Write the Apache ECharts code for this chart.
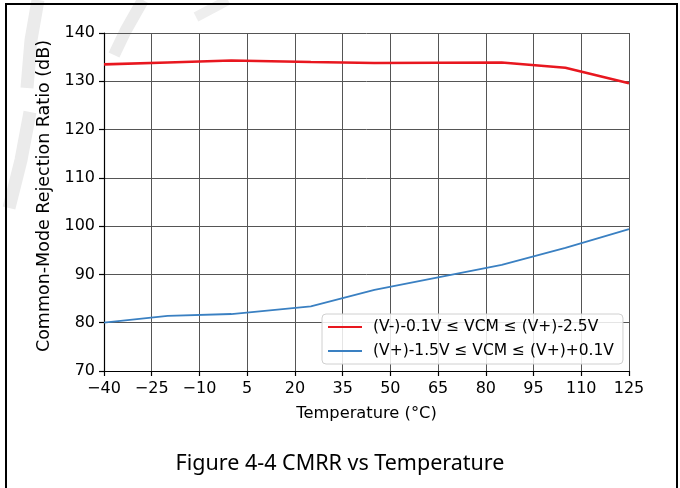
<!DOCTYPE html>
<html>
<head>
<meta charset="utf-8">
<script src="https://cdn.jsdelivr.net/npm/echarts@6/dist/echarts.min.js"></script>
<style>
html,body{margin:0;padding:0;background:#fff;}
#chart{width:680px;height:488px;}
</style>
</head>
<body>
<div id="chart"></div>
<script>
// ---- data ----
const temperatures = [-40, -20, 0, 25, 45, 85, 105, 125];
const cmrrLowVcm = [133.5, 133.9, 134.3, 134.0, 133.8, 133.9, 132.8, 129.6];
const cmrrHighVcm = [80.0, 81.4, 81.8, 83.4, 86.8, 92.0, 95.5, 99.4];
const seriesNames = ['(V-)-0.1V \u2264 VCM \u2264 (V+)-2.5V', '(V+)-1.5V \u2264 VCM \u2264 (V+)+0.1V'];
const xTickStart = -40;     // first x tick label
const xTickStep = 15;
const xTickEnd = 125;
const yMin = 70, yMax = 140, yStep = 10;
const xTitle = 'Temperature (\u00B0C)';
const yTitle = 'Common-Mode Rejection Ratio (dB)';
const caption = 'Figure 4-4 CMRR vs Temperature';

// x axis is offset so that its min is 0 (a multiple of the interval)
const off = -xTickStart;
const toPairs = (ys) => temperatures.map((t, i) => [t + off, ys[i]]);
const fmtX = (v) => { const t = Math.round(v - off); return t < 0 ? '\u2212' + Math.abs(t) : String(t); };

const chart = echarts.init(document.getElementById('chart'), null, {renderer: 'canvas'});
const axisFont = {fontFamily: 'DejaVu Sans', fontSize: 16, color: '#000'};

chart.setOption({
  animation: false,
  backgroundColor: '#fff',
  grid: {left: 104, right: 51, top: 33, bottom: 117, containLabel: false},
  xAxis: {
    type: 'value', min: 0, max: xTickEnd + off, interval: xTickStep,
    name: xTitle, nameLocation: 'middle', nameGap: 35,
    nameTextStyle: {fontFamily: 'DejaVu Sans', fontSize: 16.3, color: '#000'},
    axisLine: {show: true, onZero: false, lineStyle: {color: '#000', width: 1.2}},
    axisTick: {show: true, length: 5, lineStyle: {color: '#000', width: 1.2}},
    axisLabel: Object.assign({formatter: fmtX, margin: 10}, axisFont),
    splitLine: {show: true, lineStyle: {color: '#555', width: 1}}
  },
  yAxis: {
    type: 'value', min: yMin, max: yMax, interval: yStep,
    name: yTitle, nameLocation: 'middle', nameGap: 48, nameRotate: 90,
    nameTextStyle: {fontFamily: 'DejaVu Sans', fontSize: 17.5, color: '#000', padding: [0, 0, 0, 12]},
    axisLine: {show: true, lineStyle: {color: '#000', width: 1.2}},
    axisTick: {show: true, length: 5, lineStyle: {color: '#000', width: 1.2}},
    axisLabel: Object.assign({margin: 9}, axisFont),
    splitLine: {show: true, lineStyle: {color: '#555', width: 1}}
  },
  legend: {
    orient: 'vertical', left: 322, top: 314,
    backgroundColor: 'rgba(255,255,255,0.85)', borderColor: '#d0d0d0', borderWidth: 1, borderRadius: 4,
    padding: [5, 9, 5, 5], itemWidth: 34, itemHeight: 14, itemGap: 8,
    itemStyle: {opacity: 0},
    textStyle: {fontFamily: 'DejaVu Sans', fontSize: 15.5, color: '#000', padding: [0, 0, 0, 6]},
    data: [{name: seriesNames[0]}, {name: seriesNames[1]}]
  },
  graphic: [
    {type: 'polyline', z: -10, silent: true, shape: {points: [[38,0],[31,40],[27,88]]}, style: {stroke: '#ebebeb', lineWidth: 13, fill: null}},
    {type: 'polyline', z: -10, silent: true, shape: {points: [[30,112],[21,160],[9,208]]}, style: {stroke: '#ebebeb', lineWidth: 13, fill: null}},
    {type: 'polyline', z: -10, silent: true, shape: {points: [[143,0],[126,30],[114,55]]}, style: {stroke: '#ebebeb', lineWidth: 12, fill: null}},
    {type: 'polyline', z: -10, silent: true, shape: {points: [[228,0],[196,17]]}, style: {stroke: '#eeeeee', lineWidth: 10, fill: null}},
    {type: 'rect', z: 100, silent: true, shape: {x: 6, y: 4, width: 671, height: 500}, style: {stroke: '#000', lineWidth: 2, fill: null}},
    {type: 'text', z: 100, silent: true, left: 'center', top: 453, style: {text: caption, font: '21.5px "Noto Sans"', fill: '#000'}}
  ],
  series: [
    {name: seriesNames[0], type: 'line', data: toPairs(cmrrLowVcm), symbol: 'none', z: 3,
     lineStyle: {color: '#e8171f', width: 2.6}, itemStyle: {color: '#e8171f'}},
    {name: seriesNames[1], type: 'line', data: toPairs(cmrrHighVcm), symbol: 'none', z: 3,
     lineStyle: {color: '#3a80c2', width: 1.8}, itemStyle: {color: '#3a80c2'}}
  ]
});
</script>
</body>
</html>
